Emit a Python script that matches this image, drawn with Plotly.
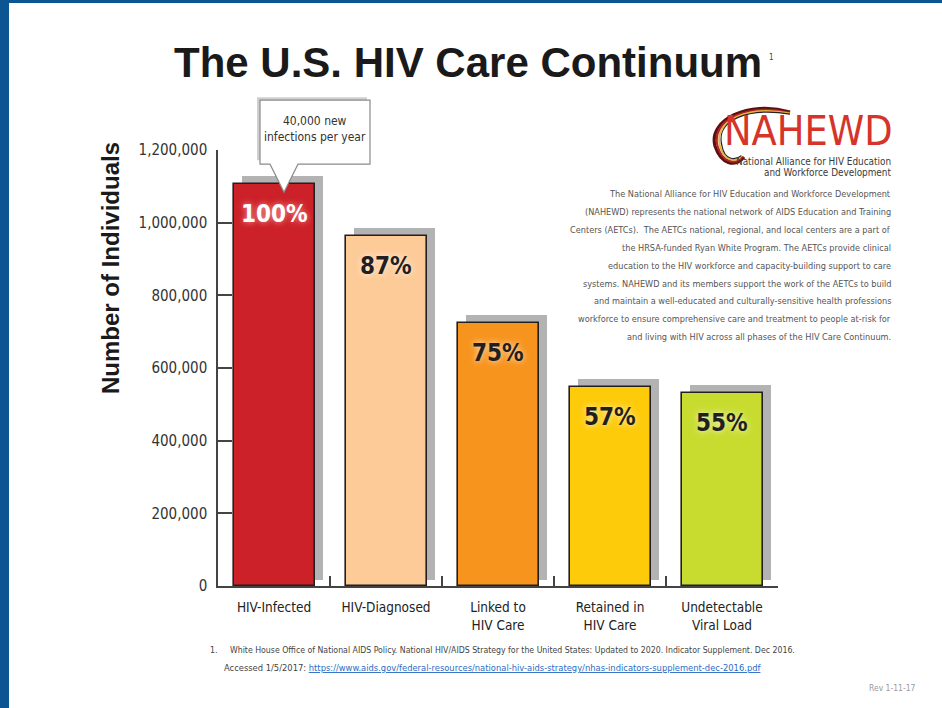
import plotly.graph_objects as go

# ---------------- data ----------------
categories = ["HIV-Infected", "HIV-Diagnosed", "Linked to<br>HIV Care",
              "Retained in<br>HIV Care", "Undetectable<br>Viral Load"]
individuals = [1106000, 963000, 724000, 548000, 531000]
pct_labels = ["100%", "87%", "75%", "57%", "55%"]
bar_colors = ["#cc2128", "#fdcb98", "#f7941e", "#fecb0a", "#c8dc30"]
pct_colors = ["#ffffff", "#231f20", "#231f20", "#231f20", "#231f20"]
y_ticks = [0, 200000, 400000, 600000, 800000, 1000000, 1200000]
callout_text = "40,000 new<br>infections per year"

paragraph = [
    "The National Alliance for HIV Education and Workforce Development",
    "(NAHEWD) represents the national network of AIDS Education and Training",
    "Centers (AETCs).  The AETCs national, regional, and local centers are a part of",
    "the HRSA-funded Ryan White Program. The AETCs provide clinical",
    "education to the HIV workforce and capacity-building support to care",
    "systems. NAHEWD and its members support the work of the AETCs to build",
    "and maintain a well-educated and culturally-sensitive health professions",
    "workforce to ensure comprehensive care and treatment to people at-risk for",
    "and living with HIV across all phases of the HIV Care Continuum.",
]
footnote1 = ("White House Office of National AIDS Policy. National HIV/AIDS Strategy for the "
             "United States: Updated to 2020. Indicator Supplement. Dec 2016.")
footnote_url = "https://www.aids.gov/federal-resources/national-hiv-aids-strategy/nhas-indicators-supplement-dec-2016.pdf"

# ---------------- layout geometry ----------------
W, H = 942, 708
PL, PR, PT, PB = 218, 778, 150, 586
YMAX = 1200000
def fx(px):
    return (px - PL) / (PR - PL)
def fy(py):
    return (PB - py) / (PB - PT)

NARROW = "DejaVu Sans Condensed, Liberation Sans Narrow, Liberation Sans, sans-serif"
BOLD = "Liberation Sans, Arial, sans-serif"

ncat = len(categories)
cat_px = (PR - PL) / ncat
val_per_px = YMAX / (PB - PT)
bar_w = 81 / cat_px
sh_dx = 8 / cat_px
sh_dy = 8 * val_per_px
sh_base = 6 * val_per_px

fig = go.Figure()
# drop shadows
fig.add_trace(go.Bar(
    x=categories, y=[v + sh_dy - sh_base for v in individuals], base=sh_base,
    width=bar_w, offset=-bar_w / 2 + sh_dx,
    marker=dict(color="#b3b3b3", line=dict(width=0)), hoverinfo="skip", showlegend=False))
# bars
fig.add_trace(go.Bar(
    x=categories, y=individuals, width=bar_w,
    marker=dict(color=bar_colors, line=dict(color="#231f20", width=1.6)),
    showlegend=False))

annotations = []
for c, v, t, col in zip(categories, individuals, pct_labels, pct_colors):
    glow = "0 0 6px rgba(255,170,170,0.9)" if col == "#ffffff" else "0 0 6px rgba(255,255,255,0.8)"
    annotations.append(dict(x=c, y=v, xref="x", yref="y", text=t, showarrow=False,
                            xanchor="center", yanchor="middle", yshift=-30,
                            font=dict(family=NARROW, size=24, color=col, weight="bold", shadow=glow)))

# callout text
annotations.append(dict(x=categories[0], y=individuals[0], xref="x", yref="y", text=callout_text,
                        showarrow=False, xanchor="center", yanchor="middle", xshift=41, yshift=55,
                        font=dict(family=NARROW, size=12, color="#333333")))


def pa(px, py, text, size, color, family=NARROW, xanchor="center", yanchor="middle", **kw):
    return dict(x=fx(px), y=fy(py), xref="paper", yref="paper", text=text, showarrow=False,
                xanchor=xanchor, yanchor=yanchor,
                font=dict(family=family, size=size, color=color), **kw)


# title
annotations.append(pa(468, 62, "<b>The U.S. HIV Care Continuum</b>", 42, "#1a1a1a", family=BOLD))
annotations.append(pa(771, 57, "1", 8, "#444444"))
# y-axis title
annotations.append(pa(110, 268, "<b>Number of Individuals</b>", 24, "#1a1a1a", family=BOLD,
                      textangle=-90))
# logo text
annotations.append(pa(895, 131, "NAHEWD", 41, "#d6342b", xanchor="right"))
annotations.append(pa(893, 161, "National Alliance for HIV Education", 9.9, "#3a3a3a", xanchor="right"))
annotations.append(pa(893, 172, "and Workforce Development", 9.9, "#3a3a3a", xanchor="right"))
# paragraph
for i, line in enumerate(paragraph):
    annotations.append(pa(893, 194 + 17.9 * i, line, 9.1, "#555555", xanchor="right"))
# footnote
annotations.append(pa(208, 650, "1.", 8.7, "#444444", xanchor="left"))
annotations.append(pa(228, 650, footnote1, 8.7, "#444444", xanchor="left"))
annotations.append(pa(222, 667, "Accessed 1/5/2017: <span style='color:#2b6cc4;text-decoration:underline'>"
                      + footnote_url + "</span>", 9.3, "#444444", xanchor="left"))
annotations.append(pa(918, 688, "Rev 1-11-17", 8.5, "#9a9a9a", xanchor="right"))

# callout balloon anchored (in paper units) at the top of the first bar, sized in pixels
first_bar_xp = (0 + 0.5) / ncat
first_bar_yp = individuals[0] / YMAX
shapes = [
    # blue frame
    dict(type="rect", xref="paper", yref="paper", x0=fx(0), x1=fx(9), y0=fy(H), y1=fy(0),
         fillcolor="#0a5592", line=dict(width=0), layer="below"),
    dict(type="rect", xref="paper", yref="paper", x0=fx(0), x1=fx(W), y0=fy(3), y1=fy(0),
         fillcolor="#0a5592", line=dict(width=0), layer="below"),
    # balloon shadow
    dict(type="path", xref="paper", yref="paper", xsizemode="pixel", ysizemode="pixel",
         xanchor=first_bar_xp, yanchor=first_bar_yp,
         path="M -17,24 L -17,87 L 93,87 L 93,84 L -14,84 L -14,24 Z",
         fillcolor="#cfcfcf", line=dict(width=0), layer="above"),
    dict(type="path", xref="paper", yref="paper", xsizemode="pixel", ysizemode="pixel",
         xanchor=first_bar_xp, yanchor=first_bar_yp,
         path="M 10,-8 L -4,20 L -14,20 L -14,84 L 96,84 L 96,20 L 24,20 Z",
         fillcolor="white", line=dict(color="#8a8a8a", width=1.2), layer="above"),
]
# logo swoosh rings (decoration)
ring_specs = [("#5a1010", 3.2, 0.0), ("#b3242a", 2.2, 2.5), ("#e5b53c", 1.8, 5.0), ("#2a2020", 1.2, 7.0)]
for col, w, o in ring_specs:
    pts = [(790, 112 + o * 0.3),
           (748, 100 + o), (708 + o, 120), (715 + o, 146),
           (721 + o * 0.5, 164 - o * 0.6), (735, 168 - o), (744 - o * 0.4, 157 - o * 0.2)]
    p = "M {:.4f},{:.4f} C {:.4f},{:.4f} {:.4f},{:.4f} {:.4f},{:.4f} C {:.4f},{:.4f} {:.4f},{:.4f} {:.4f},{:.4f}".format(
        *[v for pt in pts for v in (fx(pt[0]), fy(pt[1]))])
    shapes.append(dict(type="path", xref="paper", yref="paper", path=p,
                       line=dict(color=col, width=w), layer="above"))

fig.update_layout(
    width=W, height=H,
    margin=dict(l=PL, r=W - PR, t=PT, b=H - PB, pad=0),
    paper_bgcolor="white", plot_bgcolor="white",
    barmode="overlay", bargap=0,
    showlegend=False,
    annotations=annotations, shapes=shapes,
    xaxis=dict(range=[-0.5, ncat - 0.5], showline=True, linecolor="#444444", linewidth=1.5,
               ticks="inside", tickson="boundaries", ticklen=10, tickwidth=1.5, tickcolor="#444444",
               showgrid=False, zeroline=False, ticklabelstandoff=8, tickangle=0,
               tickfont=dict(family=NARROW, size=13.5, color="#222222")),
    yaxis=dict(range=[0, YMAX], showline=True, linecolor="#444444", linewidth=1.5,
               ticks="inside", ticklen=14, tickwidth=1.5, tickcolor="#444444",
               tickvals=y_ticks, tickformat=",", showgrid=False, zeroline=False,
               ticklabelstandoff=6,
               tickfont=dict(family=NARROW, size=15, color="#333333")),
)

fig.write_html("out.html", config={"displayModeBar": False},
               post_script="document.body.style.margin='0';")
